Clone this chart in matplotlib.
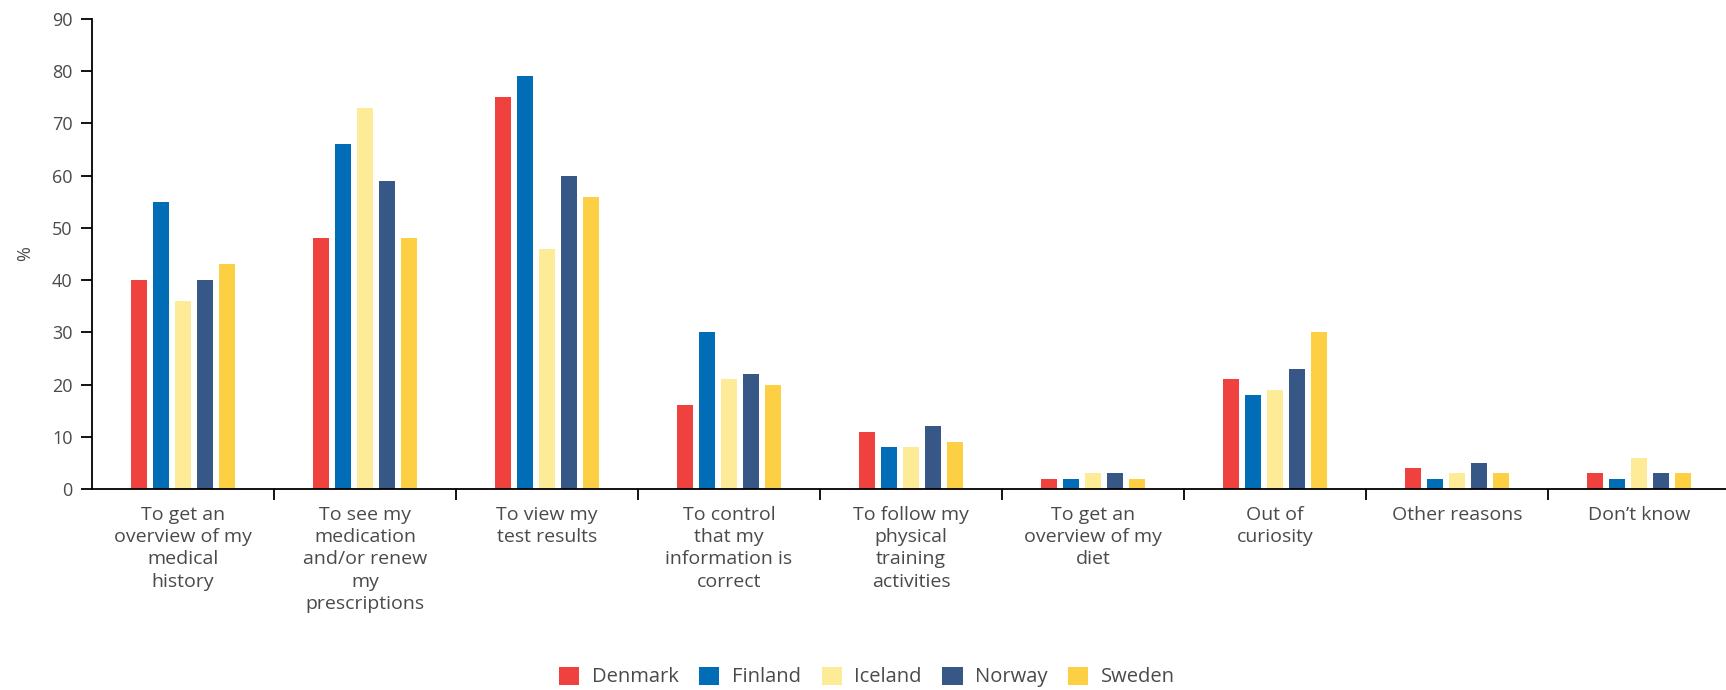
import numpy as np
import matplotlib.pyplot as plt
from matplotlib.patches import Patch

# Reasons for using the patient portal, share of respondents by country
categories = [
    'To get an\noverview of my\nmedical\nhistory',
    'To see my\nmedication\nand/or renew\nmy\nprescriptions',
    'To view my\ntest results',
    'To control\nthat my\ninformation is\ncorrect',
    'To follow my\nphysical\ntraining\nactivities',
    'To get an\noverview of my\ndiet',
    'Out of\ncuriosity',
    'Other reasons',
    "Don\u2019t know",
]
countries = ['Denmark', 'Finland', 'Iceland', 'Norway', 'Sweden']
denmark = [40, 48, 75, 16, 11, 2, 21, 4, 3]
finland = [55, 66, 79, 30, 8, 2, 18, 2, 2]
iceland = [36, 73, 46, 21, 8, 3, 19, 3, 6]
norway = [40, 59, 60, 22, 12, 3, 23, 5, 3]
sweden = [43, 48, 56, 20, 9, 2, 30, 3, 3]
colors = ['#ef413d', '#006db6', '#feeb98', '#375786', '#fdd043']

plt.rcParams['font.family'] = ['Open Sans', 'DejaVu Sans']
text_color = '#4a4a4a'

fig = plt.figure(figsize=(17.26, 6.90), dpi=100)
ax = fig.add_axes([92 / 1726, 1 - 489 / 690, 1 - 92 / 1726, (489 - 19) / 690])

x = np.arange(len(categories))
pitch = 22 / 182
width = 16 / 182
series = [denmark, finland, iceland, norway, sweden]
for i, (vals, c) in enumerate(zip(series, colors)):
    ax.bar(x + (i - 2) * pitch, vals, width, color=c, label=countries[i])

ax.set_xlim(-0.5, -0.5 + (1726 - 92) / 182)
ax.set_ylim(0, 90)
ax.set_yticks(range(0, 91, 10))

# labels at category centres, tick marks at category boundaries
ax.set_xticks(x)
ax.set_xticklabels(categories, fontsize=14, color=text_color, linespacing=1.31, va='top')
ax.tick_params(axis='x', which='major', length=0, pad=12)
ax.set_xticks(np.arange(0.5, len(categories) - 1, 1), minor=True)
ax.tick_params(axis='x', which='minor', length=8, width=1.3, color='black')
ax.tick_params(axis='y', length=8, width=1.3, color='black', labelsize=13, labelcolor=text_color, pad=6)

for side in ['top', 'right']:
    ax.spines[side].set_visible(False)
ax.spines['left'].set_linewidth(1.3)
ax.spines['bottom'].set_linewidth(1.3)

ax.set_ylabel('%', fontsize=13, color=text_color, labelpad=12.5)

handles = [Patch(facecolor=c, edgecolor='none') for c in colors]
fig.legend(handles, countries, loc='center', bbox_to_anchor=(867 / 1726, 1 - 677 / 690), ncol=5,
           frameon=False, fontsize=14.5, labelcolor=text_color, handlelength=1.0, handleheight=1.0,
           handletextpad=0.63, columnspacing=1.02, borderpad=0)

fig.savefig('out.png', dpi=100)
